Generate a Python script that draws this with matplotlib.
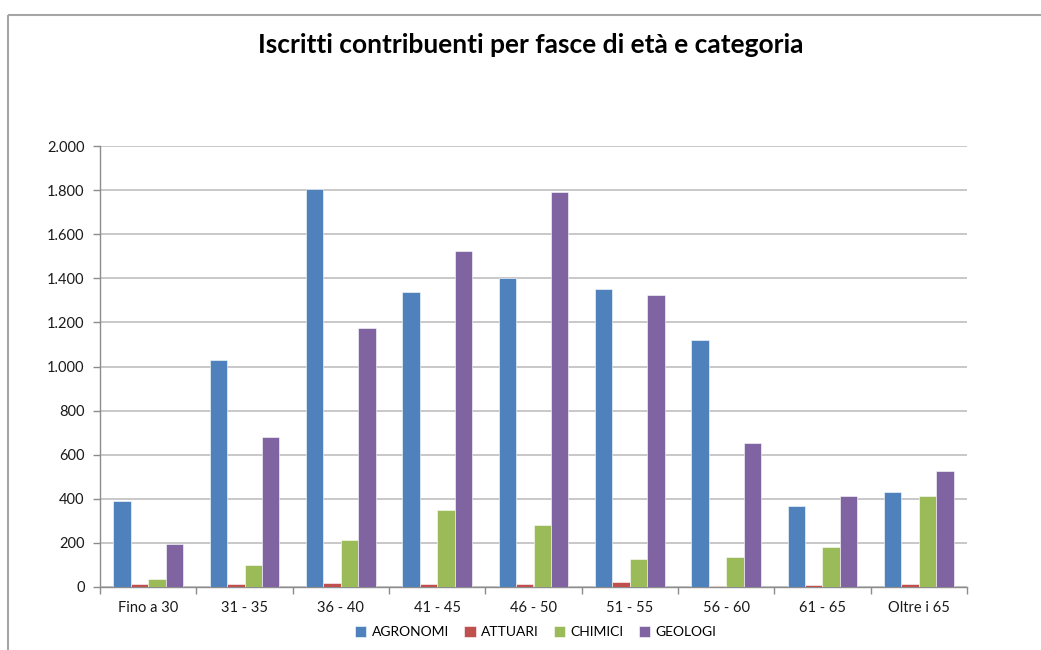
import matplotlib
matplotlib.use("Agg")
import matplotlib.pyplot as plt
from matplotlib.lines import Line2D
from matplotlib.ticker import FuncFormatter, MultipleLocator
import numpy as np

categories = ["Fino a 30", "31 - 35", "36 - 40", "41 - 45", "46 - 50",
              "51 - 55", "56 - 60", "61 - 65", "Oltre i 65"]
agronomi = [390, 1030, 1805, 1340, 1400, 1350, 1120, 367, 429]
attuari = [15, 12, 18, 12, 12, 23, 4, 8, 12]
chimici = [38, 100, 213, 350, 283, 128, 138, 183, 411]
geologi = [194, 680, 1173, 1524, 1790, 1324, 653, 411, 525]
series_names = ["AGRONOMI", "ATTUARI", "CHIMICI", "GEOLOGI"]
colors = ["#4F81BD", "#C0504D", "#9BBB59", "#8064A2"]

plt.rcParams['font.family'] = ['Lato', 'DejaVu Sans']

W, H = 1041, 650
fig = plt.figure(figsize=(W / 100, H / 100), dpi=100)
fig.patch.set_facecolor("white")

# outer chart border (top and left visible)
fig.add_artist(Line2D([8 / W, 1.02], [1 - 15 / H, 1 - 15 / H], color="#a6a6a6", lw=1.5,
                      solid_capstyle="butt"))
fig.add_artist(Line2D([8 / W, 8 / W], [-0.02, 1 - 15 / H], color="#a6a6a6", lw=1.5,
                      solid_capstyle="butt"))

left, right, top, bottom = 100, 967, 146, 587
ax = fig.add_axes([left / W, 1 - bottom / H, (right - left) / W, (bottom - top) / H])

data = [agronomi, attuari, chimici, geologi]
x = np.arange(len(categories))
bw = 0.18
for i, (vals, c, name) in enumerate(zip(data, colors, series_names)):
    ax.bar(x + (i - 1.5) * bw, vals, width=bw, color=c, label=name,
           edgecolor="white", linewidth=0.4, zorder=3)

ax.set_xlim(-0.5, len(categories) - 0.5)
ax.set_ylim(0, 2000)
ax.yaxis.set_major_locator(MultipleLocator(200))
ax.yaxis.set_major_formatter(FuncFormatter(lambda v, p: f"{int(v):,}".replace(",", ".")))
ax.grid(axis="y", color="#bfbfbf", linewidth=1.2, zorder=0)
ax.set_axisbelow(True)

ax.set_xticks(x)
ax.set_xticklabels(categories)
ax.set_xticks(np.arange(-0.5, len(categories)), minor=True)
ax.tick_params(axis="x", which="major", length=0, pad=10, labelsize=10.5, labelcolor="#1a1a1a")
ax.tick_params(axis="x", which="minor", length=5, color="#8c8c8c", width=1)
ax.tick_params(axis="y", length=5, color="#8c8c8c", width=1, labelsize=10.5, pad=6,
               labelcolor="#1a1a1a")

for s in ["top", "right"]:
    ax.spines[s].set_visible(False)
for s in ["left", "bottom"]:
    ax.spines[s].set_color("#8c8c8c")
    ax.spines[s].set_linewidth(1)

fig.text(531 / W, 1 - 45 / H, "Iscritti contribuenti per fasce di età e categoria",
         ha="center", va="center", fontsize=19, fontweight="bold", color="#000000")

fig.legend(loc="center", bbox_to_anchor=(536 / W, 1 - 632 / H), ncol=4, frameon=False,
           fontsize=10, handlelength=0.8, handleheight=0.8, handletextpad=0.4,
           columnspacing=1.1)

fig.savefig("out.png", dpi=100, facecolor="white")
